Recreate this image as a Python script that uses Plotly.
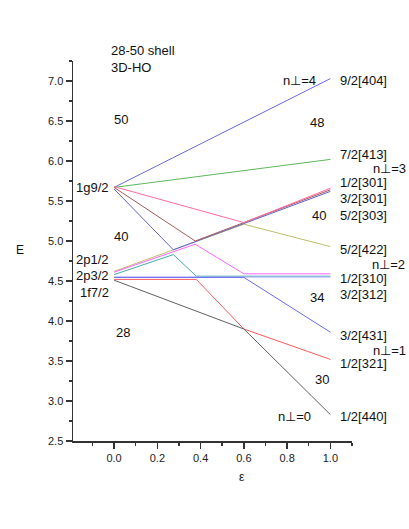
import plotly.graph_objects as go

# ---- data ----
lvl_9_2_404_x = [0.0, 1.0]
lvl_9_2_404_y = [5.67, 7.03]
lvl_7_2_413_x = [0.0, 1.0]
lvl_7_2_413_y = [5.67, 6.02]
lvl_pink_x = [0.0, 0.60, 1.0]
lvl_pink_y = [5.68, 5.23, 5.66]
lvl_brown_x = [0.0, 0.375, 1.0]
lvl_brown_y = [5.67, 5.00, 5.64]
lvl_blue_up_x = [0.0, 0.274, 1.0]
lvl_blue_up_y = [5.65, 4.89, 5.62]
lvl_olive_x = [0.0, 0.60, 1.0]
lvl_olive_y = [4.62, 5.21, 4.93]
lvl_magenta_x = [0.0, 0.375, 0.60, 1.0]
lvl_magenta_y = [4.61, 4.96, 4.59, 4.59]
lvl_cyan_x = [0.0, 0.274, 0.38, 1.0]
lvl_cyan_y = [4.58, 4.83, 4.56, 4.56]
lvl_lav_x = [0.0, 1.0]
lvl_lav_y = [4.55, 4.55]
lvl_blue_dn_x = [0.0, 0.60, 1.0]
lvl_blue_dn_y = [4.545, 4.545, 3.86]
lvl_red_x = [0.0, 0.38, 0.60, 1.0]
lvl_red_y = [4.52, 4.52, 3.90, 3.52]
lvl_gray_x = [0.0, 0.60, 1.0]
lvl_gray_y = [4.51, 3.90, 2.83]

levels = [
    (lvl_9_2_404_x, lvl_9_2_404_y, "#6a6ade"),
    (lvl_7_2_413_x, lvl_7_2_413_y, "#5cb85c"),
    (lvl_olive_x, lvl_olive_y, "#bdbd6e"),
    (lvl_magenta_x, lvl_magenta_y, "#ff66ff"),
    (lvl_cyan_x, lvl_cyan_y, "#45aaaa"),
    (lvl_lav_x, lvl_lav_y, "#a8a8ff"),
    (lvl_blue_dn_x, lvl_blue_dn_y, "#6a6aee"),
    (lvl_red_x, lvl_red_y, "#ff5a5a"),
    (lvl_gray_x, lvl_gray_y, "#606060"),
    (lvl_blue_up_x, lvl_blue_up_y, "#6060d0"),
    (lvl_brown_x, lvl_brown_y, "#a85a5a"),
    (lvl_pink_x, lvl_pink_y, "#ff6aa0"),
]

# text labels: (text, x pixel, y pixel, anchor)
labels = [
    ("28-50 shell", 109, 51, "left"),
    ("3D-HO", 109, 68, "left"),
    ("50", 121, 119, "center"),
    ("1g9/2", 111, 187, "right"),
    ("40", 121, 236, "center"),
    ("2p1/2", 111, 259, "right"),
    ("2p3/2", 111, 275, "right"),
    ("1f7/2", 111, 292, "right"),
    ("28", 123, 332, "center"),
    ("n\u22a5=4", 318, 80, "right"),
    ("9/2[404]", 338, 80, "left"),
    ("48", 317, 122, "center"),
    ("7/2[413]", 338, 154, "left"),
    ("n\u22a5=3", 371, 168, "left"),
    ("1/2[301]", 338, 182, "left"),
    ("3/2[301]", 338, 198, "left"),
    ("5/2[303]", 338, 215, "left"),
    ("40", 319, 215, "center"),
    ("5/2[422]", 338, 249, "left"),
    ("n\u22a5=2", 370, 264, "left"),
    ("1/2[310]", 338, 278, "left"),
    ("3/2[312]", 338, 294, "left"),
    ("34", 317, 297, "center"),
    ("3/2[431]", 338, 335, "left"),
    ("n\u22a5=1", 371, 350, "left"),
    ("1/2[321]", 338, 363, "left"),
    ("30", 322, 379, "center"),
    ("n\u22a5=0", 313, 416, "right"),
    ("1/2[440]", 338, 416, "left"),
]

W, H = 409, 529
L, R, T, B = 73, 352, 61, 441

fig = go.Figure()
for xs, ys, col in levels:
    fig.add_trace(go.Scatter(x=xs, y=ys, mode="lines",
                             line=dict(color=col, width=1), showlegend=False,
                             hoverinfo="skip"))

for txt, xp, yp, anc in labels:
    fig.add_annotation(text=txt, x=(xp - L) / (R - L), y=(B - yp) / (B - T),
                       xref="paper", yref="paper", showarrow=False,
                       xanchor=anc, yanchor="middle",
                       font=dict(size=13, color="#111111"))

fig.add_annotation(text="E", x=(20 - L) / (R - L), y=(B - 250) / (B - T),
                   xref="paper", yref="paper", showarrow=False,
                   xanchor="center", yanchor="middle", font=dict(size=12, color="#111"))
fig.add_annotation(text="\u03b5", x=(242 - L) / (R - L), y=(B - 477) / (B - T),
                   xref="paper", yref="paper", showarrow=False,
                   xanchor="center", yanchor="middle", font=dict(size=12, color="#111"))

axcol = "#333333"
fig.update_xaxes(range=[-0.19, 1.10], showgrid=False, zeroline=False,
                 showline=True, linecolor=axcol, linewidth=1.5,
                 ticks="outside", tickcolor=axcol, ticklen=6, tickwidth=1.5,
                 tick0=0, dtick=0.2, tickformat=".1f",
                 tickfont=dict(size=11, color="#222"),
                 minor=dict(ticks="outside", dtick=0.1, tick0=0, ticklen=3,
                            tickcolor=axcol, tickwidth=1.5, showgrid=False))
fig.update_yaxes(range=[2.5, 7.25], showgrid=False, zeroline=False,
                 showline=True, linecolor=axcol, linewidth=1.5,
                 ticks="outside", tickcolor=axcol, ticklen=6, tickwidth=1.5,
                 tick0=2.5, dtick=0.5, tickformat=".1f",
                 tickfont=dict(size=11, color="#222"),
                 minor=dict(ticks="outside", dtick=0.25, tick0=2.5, ticklen=3,
                            tickcolor=axcol, tickwidth=1.5, showgrid=False))

fig.update_layout(width=W, height=H,
                  margin=dict(l=L, r=W - R, t=T, b=H - B, pad=0),
                  paper_bgcolor="white", plot_bgcolor="white",
                  font=dict(family="Liberation Sans, Arial, sans-serif"))

fig.write_html("out.html",
               config={"displayModeBar": False, "staticPlot": True},
               post_script="document.body.style.margin='0px';"
                           "document.body.style.overflow='hidden';")
